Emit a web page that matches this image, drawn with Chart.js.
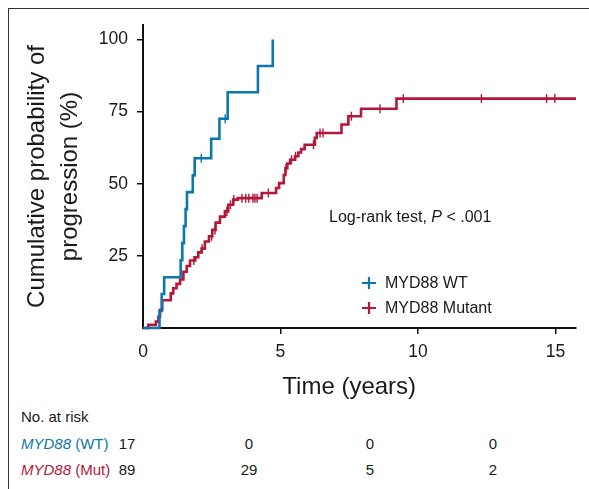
<!DOCTYPE html>
<html>
<head>
<meta charset="utf-8">
<script src="https://cdn.jsdelivr.net/npm/chart.js@4.4.1/dist/chart.umd.min.js"></script>
<style>
  html, body { margin:0; padding:0; background:#fff; }
  body { width:589px; height:489px; position:relative; overflow:hidden; font-family:"Liberation Sans", Arial, sans-serif; }
  #frame { position:absolute; left:8px; top:8px; width:600px; height:500px; border-left:1.5px solid #333; border-top:1.5px solid #333; }
  #wrap { position:absolute; left:0; top:0; width:589px; height:400px; }
  .t { position:absolute; font-size:15px; color:#1a1a1a; white-space:nowrap; transform:translateY(-50%); line-height:18px; }
  .c { transform:translate(-50%,-50%); }
</style>
</head>
<body>
<div id="frame"></div>
<div id="wrap"><canvas id="c" width="589" height="400"></canvas></div>
<div id="risk"></div>
<script>
// ---- data ----
const wtTime = [0, 0.60, 0.68, 0.77, 1.37, 1.43, 1.49, 1.55, 1.60, 1.81, 1.88, 2.48, 2.78, 3.08, 4.18, 4.72];
const wtCum  = [0, 5.9, 11.8, 17.6, 23.5, 29.4, 35.3, 41.2, 47.1, 52.9, 58.8, 65.6, 72.5, 81.7, 90.8, 100];
const wtCensor = [2.12, 2.99];

const mutTime = [0, 0.19, 0.47, 0.56, 0.62, 0.70, 1.01, 1.10, 1.22, 1.35, 1.47, 1.59, 1.71, 1.90, 2.01, 2.13, 2.25, 2.40, 2.52, 2.64, 2.80, 2.98, 3.10, 3.28, 3.45, 4.32, 4.84, 4.95, 5.12, 5.18, 5.25, 5.35, 5.53, 5.65, 5.75, 5.88, 6.25, 6.32, 7.22, 7.47, 7.93, 9.22, 15.75];
const mutCum  = [0, 1.1, 2.2, 3.9, 6.3, 9.6, 12.0, 13.8, 15.3, 16.8, 19.5, 21.5, 23.4, 24.5, 26.2, 27.5, 30.0, 31.8, 34.0, 36.5, 38.6, 40.4, 42.7, 44.5, 45.0, 46.8, 48.5, 50.2, 53.0, 55.4, 57.0, 58.3, 59.5, 60.8, 62.0, 63.5, 65.9, 67.6, 70.5, 73.4, 76.0, 79.5, 79.5];
const mutCensor = [1.85, 2.15, 2.50, 2.62, 3.05, 3.18, 3.30, 3.60, 3.74, 3.85, 4.00, 4.07, 4.15, 4.56, 5.20, 5.40, 5.55, 6.20, 6.44, 6.55, 7.58, 8.62, 9.47, 12.31, 14.68, 14.98];

const xTicks = [0, 5, 10, 15];
const yTicks = [25, 50, 75, 100];
const seriesNames = ['MYD88 WT', 'MYD88 Mutant'];
const riskTimes = [0, 5, 10, 15];
const riskWT  = [17, 0, 0, 0];
const riskMut = [89, 29, 5, 2];

// ---- styling ----
const BLUE = '#0b77ad';
const RED = '#b3173a';
const INK = '#1a1a1a';
const FONT = '"Liberation Sans", Arial, sans-serif';

function stepValue(times, vals, t) {
  let v = vals[0];
  for (let i = 0; i < times.length; i++) { if (times[i] <= t) v = vals[i]; }
  return v;
}
const pts = (ts, vs) => ts.map((t, i) => ({x: t, y: vs[i]}));
const cens = (cs, ts, vs) => cs.map(t => ({x: t, y: stepValue(ts, vs, t)}));

const overlay = {
  id: 'overlay',
  afterDraw(chart) {
    const ctx = chart.ctx;
    const xs = chart.scales.x;
    ctx.save();
    // x axis title, centred on the 0-15 tick span
    ctx.fillStyle = INK;
    ctx.font = '24px ' + FONT;
    ctx.textAlign = 'center';
    ctx.textBaseline = 'alphabetic';
    ctx.fillText('Time (years)', (xs.getPixelForValue(0) + xs.getPixelForValue(15)) / 2, 394);
    // annotation
    ctx.font = '16px ' + FONT;
    ctx.textAlign = 'left';
    ctx.textBaseline = 'middle';
    let x = 329;
    const a = 'Log-rank test, ';
    ctx.fillText(a, x, 218); x += ctx.measureText(a).width;
    ctx.font = 'italic 16px ' + FONT;
    ctx.fillText('P', x, 218); x += ctx.measureText('P').width;
    ctx.font = '16px ' + FONT;
    ctx.fillText(' < .001', x, 218);
    // legend
    const items = [[seriesNames[0], BLUE, 283], [seriesNames[1], RED, 308]];
    items.forEach(([label, col, y]) => {
      ctx.strokeStyle = col; ctx.lineWidth = 2.2;
      ctx.beginPath();
      ctx.moveTo(362, y); ctx.lineTo(376, y);
      ctx.moveTo(369, y - 6); ctx.lineTo(369, y + 6);
      ctx.stroke();
      ctx.fillStyle = INK;
      ctx.font = '16px ' + FONT;
      ctx.fillText(label, 385, y + 1);
    });
    ctx.restore();
  }
};

const lineDs = (label, data, col) => ({
  label, data, borderColor: col, backgroundColor: col, borderWidth: 2.6,
  stepped: 'before', pointRadius: 0, showLine: true, fill: false, clip: false, order: 1
});
const censDs = (label, data, col) => ({
  label, data, borderColor: col, backgroundColor: col, borderWidth: 1.4,
  pointStyle: 'line', rotation: 90, pointRadius: 4.5, showLine: false, clip: false, order: 0
});

new Chart(document.getElementById('c'), {
  type: 'scatter',
  data: {
    datasets: [
      lineDs(seriesNames[0], pts(wtTime, wtCum), BLUE),
      lineDs(seriesNames[1], pts(mutTime, mutCum), RED),
      censDs(seriesNames[0] + ' censored', cens(wtCensor, wtTime, wtCum), BLUE),
      censDs(seriesNames[1] + ' censored', cens(mutCensor, mutTime, mutCum), RED)
    ]
  },
  options: {
    responsive: false,
    animation: false,
    events: [],
    layout: { padding: { left: 0, right: 13, top: 25, bottom: 0 } },
    plugins: { legend: { display: false }, tooltip: { enabled: false } },
    scales: {
      x: {
        type: 'linear', min: 0, max: 15.75,
        afterBuildTicks: s => { s.ticks = xTicks.map(v => ({value: v})); },
        afterFit: s => { s.height = 72; },
        ticks: { color: INK, font: { family: FONT, size: 17.5 }, padding: 8 },
        grid: { drawOnChartArea: false, drawTicks: true, tickLength: 6, lineWidth: 1.5,
                color: c => (c.tick && c.tick.value === 0) ? 'rgba(0,0,0,0)' : '#111' },
        border: { display: true, color: '#111', width: 2 },
        title: { display: false }
      },
      y: {
        type: 'linear', min: 0, max: 105,
        afterBuildTicks: s => { s.ticks = yTicks.map(v => ({value: v})); },
        afterFit: s => { s.width = 143; },
        ticks: { color: INK, font: { family: FONT, size: 17.5 }, padding: 9 },
        grid: { drawOnChartArea: false, drawTicks: true, tickLength: 6, lineWidth: 1.5, color: '#111' },
        border: { display: true, color: '#111', width: 2 },
        title: { display: true, text: ['Cumulative probability of', 'progression (%)'], color: INK,
                 font: { family: FONT, size: 24, lineHeight: 1.375 }, padding: { top: 20.5, bottom: 0 } }
      }
    }
  },
  plugins: [overlay]
});

// ---- number at risk table (HTML text) ----
const riskCols = [127, 249, 370, 493];
const risk = document.getElementById('risk');
function addText(html, x, y, color, centered) {
  const d = document.createElement('div');
  d.className = 't' + (centered ? ' c' : '');
  d.style.left = x + 'px'; d.style.top = y + 'px';
  if (color) d.style.color = color;
  d.innerHTML = html;
  risk.appendChild(d);
}
addText('No. at risk', 21, 417, INK, false);
addText('<i>MYD88</i> (WT)', 21, 444, BLUE, false);
addText('<i>MYD88</i> (Mut)', 21, 470, RED, false);
riskTimes.forEach((t, i) => {
  addText(String(riskWT[i]), riskCols[i], 444, INK, true);
  addText(String(riskMut[i]), riskCols[i], 470, INK, true);
});
</script>
</body>
</html>
